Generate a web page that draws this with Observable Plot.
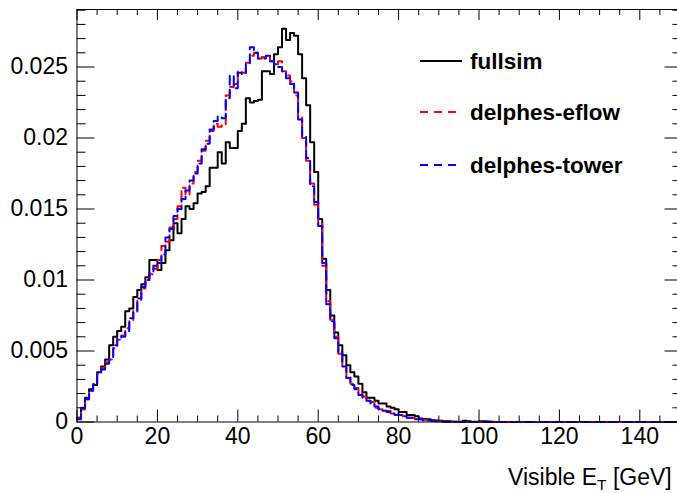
<!DOCTYPE html>
<html><head><meta charset="utf-8">
<script src="https://cdn.jsdelivr.net/npm/d3@7"></script>
<script src="https://cdn.jsdelivr.net/npm/@observablehq/plot@0.6"></script>
<style>
html,body{margin:0;padding:0;background:#fff;overflow:hidden;width:677px;height:493px}
#chart{width:677px;height:493px;overflow:hidden}
#chart svg{display:block;max-width:none !important;width:700px !important;height:493px !important}
</style></head><body><div id="chart"></div>
<script>
// ---- data: 1 GeV bins from 0 to 150 GeV (normalised) ----
const binEdges = d3.range(0, 151); // lower edges 0..149 plus upper edge 150
const fullsim = [
 .0003,.0009,.0017,.0023,.0026,.0035,.0039,.0044,.0054,.0060,
 .0064,.0067,.0078,.0080,.0088,.0093,.0097,.0102,.0114,.0114,
 .0107,.0112,.0121,.0128,.0140,.0133,.0143,.0152,.0150,.0154,
 .0161,.0162,.0166,.0179,.0179,.0190,.0182,.0197,.0193,.0193,
 .0205,.0210,.0228,.0225,.0226,.0227,.0247,.0247,.0245,.0259,
 .0264,.0277,.0269,.0274,.0272,.0259,.0242,.0223,.0197,.0176,
 .0143,.0115,.0093,.0075,.0063,.0054,.0047,.0040,.0035,.0032,
 .0027,.0021,.0017,.0017,.0015,.0013,.0013,.0011,.0010,.0009,
 .0007,.0007,.0005,.0005,.0004,.00025,.00022,.0002,.00012,.0001,
 .00008,.00006,.00005,.00003,.00002,.00002,.00008,.00006,.00002,.00002,
 .00006,.00006,.00004,.00001,0,0,0,0,0,0,
 0,0,0,0,0,0,0,0,0,0, 0,0,0,0,0,0,0,0,0,0,
 0,0,0,0,0,0,0,0,0,0, 0,0,0,0,0,0,0,0,0,0
];
const delphesEflow = [
 .0003,.0009,.0016,.0022,.0027,.0034,.0038,.0042,.0044,.0052,
 .0058,.0061,.0066,.0071,.0079,.0086,.0094,.0099,.0104,.0108,
 .0114,.0124,.0127,.0137,.0143,.0152,.0165,.0160,.0168,.0176,
 .0184,.0191,.0198,.0205,.0210,.0208,.0209,.0230,.0236,.0238,
 .0247,.0246,.0253,.0258,.0260,.0256,.0257,.0257,.0254,.0252,
 .0254,.0247,.0244,.0240,.0230,.0215,.0200,.0184,.0168,.0153,
 .0140,.0110,.0085,.0072,.0060,.0048,.0039,.0032,.0027,.0024,
 .0020,.0018,.0015,.0014,.0010,.0009,.0008,.0008,.0006,.0006,
 .0005,.0004,.0003,.0003,.0002,.0002,.00015,.0001,.0001,.00006,
 .00005,.00003,.00002,0,0,0,0,0,0,0,
 0,0,0,0,0,0,0,0,0,0, 0,0,0,0,0,0,0,0,0,0,
 0,0,0,0,0,0,0,0,0,0, 0,0,0,0,0,0,0,0,0,0,
 0,0,0,0,0,0,0,0,0,0
];
const delphesTower = [
 .0002,.0010,.0016,.0022,.0026,.0035,.0037,.0041,.0045,.0054,
 .0059,.0060,.0064,.0073,.0077,.0087,.0095,.0100,.0105,.0110,
 .0112,.0118,.0130,.0136,.0145,.0150,.0157,.0163,.0170,.0175,
 .0182,.0192,.0196,.0206,.0212,.0215,.0214,.0228,.0244,.0235,
 .0246,.0245,.0252,.0264,.0260,.0256,.0256,.0258,.0254,.0252,
 .0250,.0247,.0242,.0238,.0232,.0213,.0201,.0186,.0166,.0155,
 .0138,.0112,.0083,.0071,.0059,.0049,.0039,.0031,.0026,.0023,
 .0019,.0017,.0015,.0013,.0011,.0009,.0008,.0007,.0006,.0005,
 .0005,.0004,.0003,.0003,.0002,.0002,.0001,.0001,.00008,.00005,
 .00004,.00002,.00002,0,0,0,0,0,0,0,
 0,0,0,0,0,0,0,0,0,0, 0,0,0,0,0,0,0,0,0,0,
 0,0,0,0,0,0,0,0,0,0, 0,0,0,0,0,0,0,0,0,0,
 0,0,0,0,0,0,0,0,0,0
];
const seriesNames = ["fullsim", "delphes-eflow", "delphes-tower"];
const seriesColors = ["#000000", "#ff0000", "#0000ff"];
const xMajor = [0, 20, 40, 60, 80, 100, 120, 140];
const xMinor = [5,10,15,25,30,35,45,50,55,65,70,75,85,90,95,105,110,115,125,130,135,145,150];
const yMajor = [0, 0.005, 0.01, 0.015, 0.02, 0.025];
const yTickLabels = ["0", "0.005", "0.01", "0.015", "0.02", "0.025"];
const yMinor = [0.001,0.002,0.003,0.004,0.006,0.007,0.008,0.009,0.011,0.012,0.013,0.014,
  0.016,0.017,0.018,0.019,0.021,0.022,0.023,0.024,0.026,0.027,0.028,0.029];
const xTitle = ["Visible E", "T", " [GeV]"];

// ---- layout ----
const W = 700, H = 493;
const mL = 76.5, mR = W - 679.5, mT = 9, mB = H - 421.5;
const fw = W - mL - mR, fh = H - mT - mB;
const font = "'Liberation Sans', Arial, Helvetica, sans-serif";

const toPts = vals => binEdges.map((e, i) => ({x: e, y: vals[Math.min(i, vals.length - 1)]}));
const allSeries = [fullsim, delphesEflow, delphesTower];

const lineMarks = allSeries.map((vals, k) => Plot.line(toPts(vals), {
  x: "x", y: "y", curve: "step-after", stroke: seriesColors[k], strokeWidth: 2,
  strokeDasharray: k === 0 ? null : "9,5"
}));

const svg = Plot.plot({
  width: W, height: H,
  marginLeft: mL, marginRight: mR, marginTop: mT, marginBottom: mB,
  style: {fontFamily: font, background: "#fff", overflow: "hidden", maxWidth: "none"},
  x: {domain: [0, 150], axis: null},
  y: {domain: [0, 0.02905], axis: null},
  marks: [
    ...lineMarks,
    Plot.frame({stroke: "#000", strokeWidth: 1}),
    Plot.ruleX(xMajor, {insetTop: fh - 12, stroke: "#000"}),
    Plot.ruleX(xMinor, {insetTop: fh - 6, stroke: "#000"}),
    Plot.ruleX(xMajor, {insetBottom: fh - 11, stroke: "#000"}),
    Plot.ruleX(xMinor, {insetBottom: fh - 6, stroke: "#000"}),
    Plot.ruleY(yMajor, {insetRight: fw - 18, stroke: "#000"}),
    Plot.ruleY(yMinor, {insetRight: fw - 9, stroke: "#000"}),
    Plot.ruleY(yMajor, {insetLeft: fw - 15, stroke: "#000"}),
    Plot.ruleY(yMinor, {insetLeft: fw - 7, stroke: "#000"}),
    Plot.text(xMajor, {x: d => d, frameAnchor: "bottom", lineAnchor: "top", dy: 6,
      text: d => String(d), fontSize: 23, fill: "#000"}),
    Plot.text(yMajor, {y: d => d, frameAnchor: "left", textAnchor: "end", dx: -9,
      text: (d, i) => yTickLabels[i], fontSize: 23, fill: "#000"})
  ]
});

const s = d3.select(svg);
// axis title
const t = s.append("text").attr("x", 508).attr("y", 485).attr("text-anchor", "start")
  .attr("font-family", font).attr("font-size", 23).attr("fill", "#000");
t.append("tspan").text(xTitle[0]);
t.append("tspan").attr("font-size", 15.5).attr("dy", 5).text(xTitle[1]);
t.append("tspan").attr("dy", -5).text(xTitle[2]);

// legend
const legY = [61, 112, 165];
seriesNames.forEach((name, k) => {
  s.append("line").attr("x1", 420).attr("x2", 462).attr("y1", legY[k]).attr("y2", legY[k])
    .attr("stroke", seriesColors[k]).attr("stroke-width", 2)
    .attr("stroke-dasharray", k === 0 ? null : "8,6");
  s.append("text").attr("x", 470).attr("y", legY[k] + 8).attr("text-anchor", "start")
    .attr("font-family", font).attr("font-weight", "bold").attr("font-size", 22.5)
    .attr("fill", "#000").text(name);
});

document.getElementById("chart").appendChild(svg);
</script></body></html>
